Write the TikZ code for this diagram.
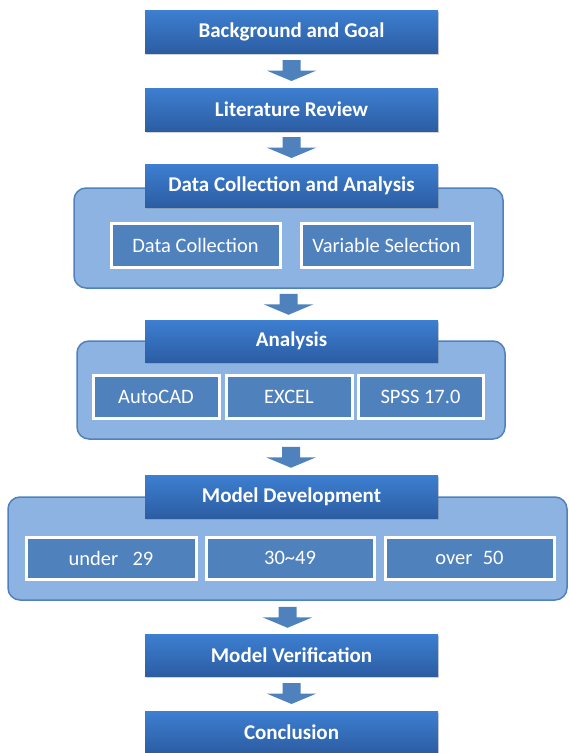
\documentclass[tikz,border=0pt]{standalone}
\usepackage{fontspec}
\setmainfont{Carlito}
\usetikzlibrary{calc,shadows}

\definecolor{titletop}{HTML}{3D7FD1}
\definecolor{titlebot}{HTML}{2C5DA3}
\definecolor{panelfill}{HTML}{8DB3E2}
\definecolor{paneledge}{HTML}{4F81BD}
\definecolor{itemfill}{HTML}{4F81BD}

\tikzset{
  titlebox/.style={rectangle, top color=titletop, bottom color=titlebot,
    minimum width=293pt, minimum height=43pt, inner sep=0pt, text=white,
    font=\fontsize{21}{23}\selectfont\bfseries,
    drop shadow={opacity=0.35, shadow xshift=1pt, shadow yshift=-2pt}},
  panel/.style={rectangle, rounded corners=12pt, fill=panelfill, draw=paneledge,
    line width=1.5pt, inner sep=0pt},
  itembox/.style={rectangle, fill=itemfill, draw=white, line width=3pt,
    minimum height=42pt, inner sep=0pt, text=white,
    font=\fontsize{20.5}{22}\selectfont,
    drop shadow={opacity=0.3, shadow xshift=1pt, shadow yshift=-1.5pt}},
  flowarrow/.style={fill=paneledge, draw=none}
}

% block arrow from the bottom of one node to the top of the next
\newcommand{\flowdown}[2]{%
  \fill[flowarrow] let \p1=(#1.south), \p2=(#2.north), \n1={(\y1+\y2)/2} in
    (\x1-9pt,\n1+10.5pt) -- (\x1+9pt,\n1+10.5pt) -- (\x1+9pt,\n1)
    -- (\x1+25pt,\n1) -- (\x1,\n1-10.5pt) -- (\x1-25pt,\n1)
    -- (\x1-9pt,\n1) -- cycle;}

\begin{document}
\begin{tikzpicture}[x=1pt,y=-1pt]
\useasboundingbox (0,0) rectangle (569,753);

% grouping panels
\node[panel, minimum width=429pt, minimum height=100pt] (collpanel) at (288.5,238) {};
\node[panel, minimum width=428pt, minimum height=98pt] (anapanel) at (291,390) {};
\node[panel, minimum width=559pt, minimum height=103pt] (devpanel) at (287.5,548.5) {};

% main steps
\node[titlebox] (goal) at (291.5,31.5) {Background and Goal};
\node[titlebox] (review) at (291.5,109.5) {Literature Review};
\node[titlebox] (collect) at (291.5,185.5) {Data Collection and Analysis};
\node[titlebox, minimum height=42pt] (analysis) at (291.5,341) {Analysis};
\node[titlebox] (develop) at (291.5,496.5) {Model Development};
\node[titlebox, minimum height=42pt] (verify) at (291.5,655) {Model Verification};
\node[titlebox, minimum height=42pt] (concl) at (291.5,732) {Conclusion};

% sub items
\node[itembox, minimum width=169pt, minimum height=44pt] (datacoll) at (195.5,245) {Data Collection};
\node[itembox, minimum width=171pt, minimum height=44pt] (varsel) at (386.5,245) {Variable Selection};

\node[itembox, minimum width=126pt, minimum height=43pt] (autocad) at (156,396.5) {AutoCAD};
\node[itembox, minimum width=126pt, minimum height=43pt] (excel) at (289,396.5) {EXCEL};
\node[itembox, minimum width=125pt, minimum height=43pt] (spss) at (420.5,396.5) {SPSS 17.0};

\node[itembox, minimum width=170pt] (young) at (111,558) {under\hspace{0.7em}29};
\node[itembox, minimum width=168pt] (middle) at (290,558) {30\textasciitilde49};
\node[itembox, minimum width=169pt] (old) at (469.5,558) {over\hspace{0.5em}50};

% arrows
\flowdown{goal}{review}
\flowdown{review}{collect}
\flowdown{collpanel}{analysis}
\flowdown{anapanel}{develop}
\flowdown{devpanel}{verify}
\flowdown{verify}{concl}
\end{tikzpicture}
\end{document}
